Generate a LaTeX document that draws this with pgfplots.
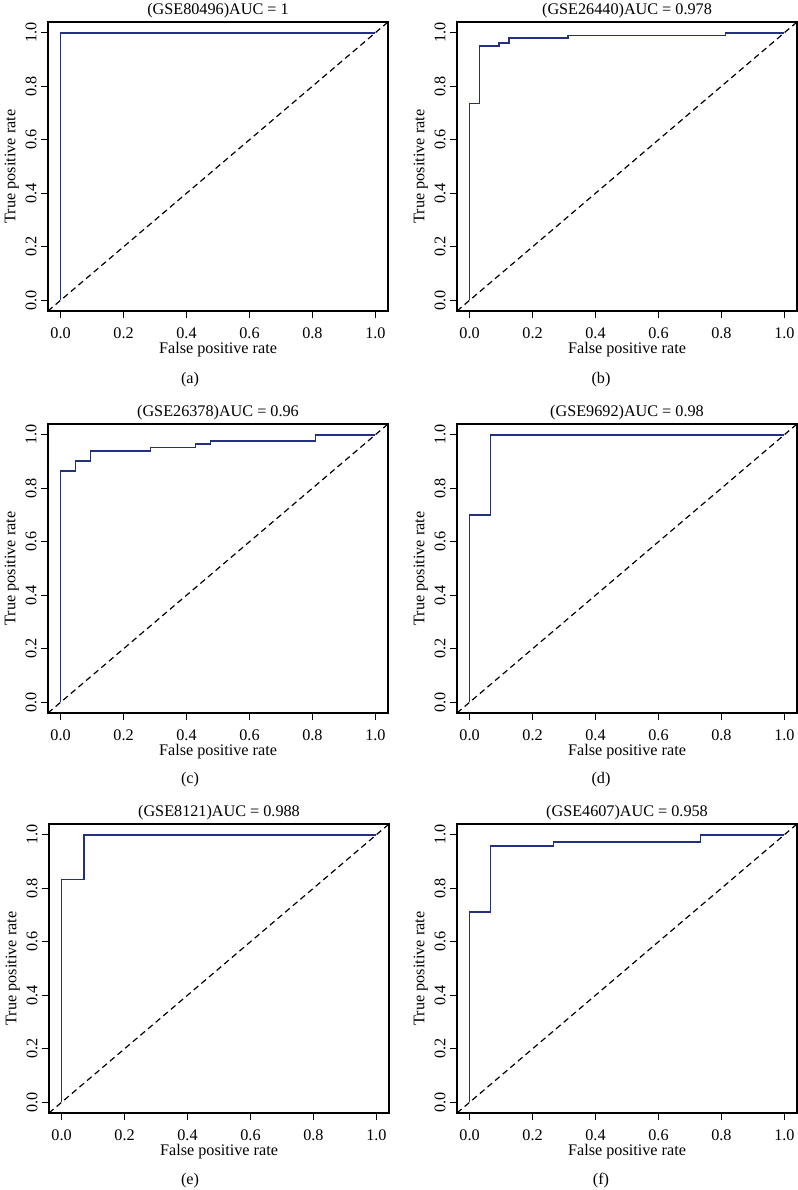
\documentclass[border=0pt]{standalone}
\usepackage{fontspec}
\setmainfont{Liberation Serif}
\usepackage{pgfplots}
\pgfplotsset{compat=1.18}
\definecolor{roc}{RGB}{35,48,130}
\pgfplotsset{
  rocax/.style={
    scale only axis, width=170pt, height=144.5pt,
    xmin=-0.04, xmax=1.04, ymin=-0.04, ymax=1.04,
    xtick={0,0.2,0.4,0.6,0.8,1.0}, ytick={0,0.2,0.4,0.6,0.8,1.0},
    xticklabels={0.0,0.2,0.4,0.6,0.8,1.0},
    yticklabels={0.0,0.2,0.4,0.6,0.8,1.0},
    tick align=outside, xtick pos=bottom, ytick pos=left,
    major tick length=3.5pt,
    tick style={black, line width=0.6pt},
    axis line style={black, line width=0.7pt},
    every tick label/.append style={font=\fontsize{8.1}{9.6}\selectfont},
    label style={font=\fontsize{8.1}{9.6}\selectfont},
    title style={font=\fontsize{8.1}{9.6}\selectfont, at={(axis description cs:0.5,1.048)}, anchor=center, yshift=-7pt},
    xticklabel style={anchor=north, inner sep=0pt, yshift=-4.6pt},
    yticklabel style={rotate=90, anchor=south, inner sep=0pt},
    yticklabel shift=2pt,
    xlabel={False positive rate}, ylabel={True positive rate},
    xlabel style={at={(axis description cs:0.5,-0.132)}, anchor=center, inner sep=0pt},
    ylabel style={at={(axis description cs:-0.107,0.5)}, anchor=center},
    clip=true,
  },
  rocline/.style={roc, line width=0.85pt, mark=none},
  diag/.style={black, line width=0.6pt, dash pattern=on 3pt off 2pt, mark=none},
}
\begin{document}
\begin{tikzpicture}
\useasboundingbox (0,0) rectangle (399pt,595pt);
% (a)
\begin{axis}[rocax, at={(24pt,439.5pt)}, anchor=south west, title={(GSE80496)AUC = 1}]
\addplot[rocline] coordinates {(0,0) (0,1) (1,1)};
\addplot[diag] coordinates {(-0.04,-0.04) (1.04,1.04)};
\end{axis}
% (b)
\begin{axis}[rocax, at={(228.5pt,439.5pt)}, anchor=south west, title={(GSE26440)AUC = 0.978}]
\addplot[rocline] coordinates {(0,0) (0,0.735) (0.03125,0.735) (0.03125,0.95) (0.09375,0.95) (0.09375,0.961) (0.125,0.961) (0.125,0.98) (0.3125,0.98) (0.3125,0.99) (0.8125,0.99) (0.8125,1) (1,1)};
\addplot[diag] coordinates {(-0.04,-0.04) (1.04,1.04)};
\end{axis}
% (c)
\begin{axis}[rocax, at={(24pt,238.5pt)}, anchor=south west, title={(GSE26378)AUC = 0.96}]
\addplot[rocline] coordinates {(0,0) (0,0.865) (0.0476,0.865) (0.0476,0.903) (0.0952,0.903) (0.0952,0.94) (0.2857,0.94) (0.2857,0.952) (0.4286,0.952) (0.4286,0.964) (0.4762,0.964) (0.4762,0.976) (0.8095,0.976) (0.8095,1) (1,1)};
\addplot[diag] coordinates {(-0.04,-0.04) (1.04,1.04)};
\end{axis}
% (d)
\begin{axis}[rocax, at={(228.5pt,238.5pt)}, anchor=south west, title={(GSE9692)AUC = 0.98}]
\addplot[rocline] coordinates {(0,0) (0,0.7) (0.0667,0.7) (0.0667,1) (1,1)};
\addplot[diag] coordinates {(-0.04,-0.04) (1.04,1.04)};
\end{axis}
% (e)
\begin{axis}[rocax, at={(24.5pt,38.5pt)}, anchor=south west, title={(GSE8121)AUC = 0.988}]
\addplot[rocline] coordinates {(0,0) (0,0.833) (0.0714,0.833) (0.0714,1) (1,1)};
\addplot[diag] coordinates {(-0.04,-0.04) (1.04,1.04)};
\end{axis}
% (f)
\begin{axis}[rocax, at={(228.5pt,38.5pt)}, anchor=south west, title={(GSE4607)AUC = 0.958}]
\addplot[rocline] coordinates {(0,0) (0,0.71) (0.0667,0.71) (0.0667,0.957) (0.2667,0.957) (0.2667,0.973) (0.7333,0.973) (0.7333,1) (1,1)};
\addplot[diag] coordinates {(-0.04,-0.04) (1.04,1.04)};
\end{axis}
\node[font=\fontsize{8.1}{9.6}\selectfont, anchor=center] at (95pt,405pt) {(a)};
\node[font=\fontsize{8.1}{9.6}\selectfont, anchor=center] at (300.5pt,405pt) {(b)};
\node[font=\fontsize{8.1}{9.6}\selectfont, anchor=center] at (95pt,205pt) {(c)};
\node[font=\fontsize{8.1}{9.6}\selectfont, anchor=center] at (300.5pt,205pt) {(d)};
\node[font=\fontsize{8.1}{9.6}\selectfont, anchor=center] at (95pt,4.8pt) {(e)};
\node[font=\fontsize{8.1}{9.6}\selectfont, anchor=center] at (300.5pt,4.8pt) {(f)};
\end{tikzpicture}
\end{document}
